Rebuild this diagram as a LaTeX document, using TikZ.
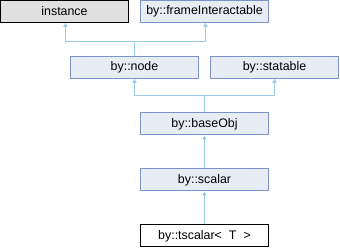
\documentclass[tikz,border=0pt]{standalone}
\usepackage{fontspec}
\setmainfont{Liberation Sans}
\usetikzlibrary{arrows.meta}
\definecolor{boxf}{HTML}{E8ECF4}
\definecolor{boxd}{HTML}{7B93C8}
\definecolor{extf}{HTML}{E0E0E0}
\definecolor{edge}{HTML}{9ACCEC}
\newcommand\fsC{\fontsize{12.4}{14}\selectfont}

\begin{document}
\begin{tikzpicture}[x=1pt,y=1pt,
  cls/.style={draw=boxd,fill=boxf,line width=1pt,minimum width=128pt,minimum height=22pt,inner sep=0,font=\fsC},
  ext/.style={cls,draw=black,fill=extf},
  leaf/.style={cls,draw=black,fill=white},
  inh/.style={edge,line width=0.9pt,-{Triangle[length=4pt,width=4.5pt]}}]
\useasboundingbox (0,0) rectangle (340,248);
% top row
\node[ext] (inst) at (64.5,236.5) {instance};
\node[cls] (frame) at (204.5,236.5) {by::frameInteractable};
% second row
\node[cls] (bnode) at (134.5,180.5) {by::node};
\node[cls] (stat) at (274.5,180.5) {by::statable};
% chain
\node[cls] (base) at (204.5,124) {by::baseObj};
\node[cls] (scal) at (204.5,68) {by::scalar};
\node[leaf] (tscal) at (204.5,12) {by::tscalar<\hspace{7pt}T\hspace{7pt}>};
% inheritance edges
\coordinate (j1) at (134.5,207);
\coordinate (j2) at (204.5,152.3);
\draw[inh] (bnode.north) -- (j1) -| ([xshift=1pt]inst.south);
\draw[inh] (j1) -| ([xshift=1pt]frame.south);
\draw[inh] (base.north) -- (j2) -| (bnode.south);
\draw[inh] (j2) -| (stat.south);
\draw[inh] (scal.north) -- (base.south);
\draw[inh] (tscal.north) -- (scal.south);
\end{tikzpicture}
\end{document}
